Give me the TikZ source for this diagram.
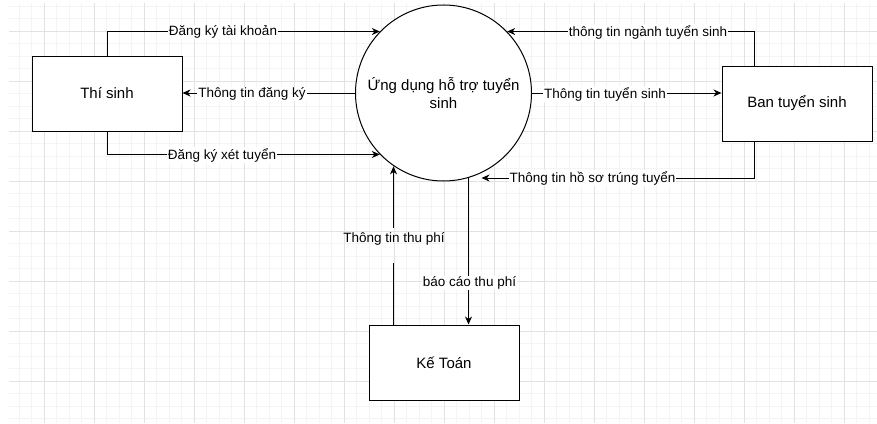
\documentclass[tikz,border=0pt]{standalone}
\usepackage{fontspec}
\setmainfont{Liberation Sans}
\usetikzlibrary{arrows.meta}
\definecolor{gmajor}{HTML}{E2E2E2}
\definecolor{gminor}{HTML}{F4F4F4}
\tikzset{
  boxnode/.style={draw, line width=1pt, fill=white, minimum width=150pt, minimum height=75pt, inner sep=0pt, font=\fontsize{15}{18}\selectfont},
  procnode/.style={draw, circle, line width=1pt, fill=white, minimum size=176pt, inner sep=0pt, align=center, font=\fontsize{15}{18}\selectfont},
  flowline/.style={line width=1pt},
  flow/.style={flowline, -{Stealth[length=8pt,width=7pt,inset=2.5pt]}},
  lbl/.style={fill=white, inner xsep=1pt, inner ysep=1pt, font=\fontsize{13.5}{16}\selectfont}
}
\begin{document}
\begin{tikzpicture}[x=1pt,y=-1pt]
\useasboundingbox (0,0) rectangle (877,423);
\begin{scope}
\clip (9,3) rectangle (877,423);
\foreach \x in {6.5,19,...,880} {\draw[gminor, line width=0.8pt] (\x,0) -- (\x,423);}
\foreach \y in {6,18.5,...,430} {\draw[gminor, line width=0.8pt] (0,\y) -- (877,\y);}
\foreach \x in {44,94,...,880} {\draw[gmajor, line width=0.9pt] (\x,0) -- (\x,423);}
\foreach \y in {31,81,...,430} {\draw[gmajor, line width=0.9pt] (0,\y) -- (877,\y);}
\end{scope}

\node[boxnode] (ts) at (107,93.5) {Thí sinh};
\node[procnode] (app) at (443.5,93) {Ứng dụng hỗ trợ tuyển\\sinh};
\node[boxnode] (bts) at (797,103.5) {Ban tuyển sinh};
\node[boxnode] (kt) at (444,362.5) {Kế Toán};

\coordinate (btsT) at ([xshift=33pt]bts.north west);
\coordinate (btsB) at ([xshift=33pt]bts.south west);
\coordinate (ktL) at ([xshift=25pt]kt.north west);
\coordinate (ktR) at ([xshift=100pt]kt.north west);
\coordinate (hsEnd) at (481.5,178);

\node[lbl, fill=none, inner ysep=0pt, text height=14pt, text depth=21pt] (l7) at (394,245.5) {Thông tin thu phí};

\draw[flow] (ts.north) |- (app.136);
\draw[flow] (app.west) -- (ts.east |- app.west);
\draw[flow] (ts.south) |- (app.224.5);
\draw[flow] (btsT) |- (app.44);
\draw[flow] (app.east) -- (bts.west |- app.east);
\draw[flow] (btsB) |- (hsEnd);
\draw[flowline] (ktL) -- (ktL |- l7.south);
\draw[flow] (ktL |- l7.north) -- (ktL |- app.236);
\draw[flow] (ktR |- app.287.2) -- (ktR);

\node[lbl] (l1) at (223,32) {Đăng ký tài khoản};
\node[lbl] (l2) at (252,94) {Thông tin đăng ký};
\node[lbl] (l3) at (222,155) {Đăng ký xét tuyển};
\node[lbl] (l4) at (648,32) {thông tin ngành tuyển sinh};
\node[lbl] (l5) at (605,94) {Thông tin tuyển sinh};
\node[lbl] (l6) at (592.5,178) {Thông tin hồ sơ trúng tuyển};
\node[lbl] (l8) at (469.5,283) {báo cáo thu phí};
\end{tikzpicture}
\end{document}
